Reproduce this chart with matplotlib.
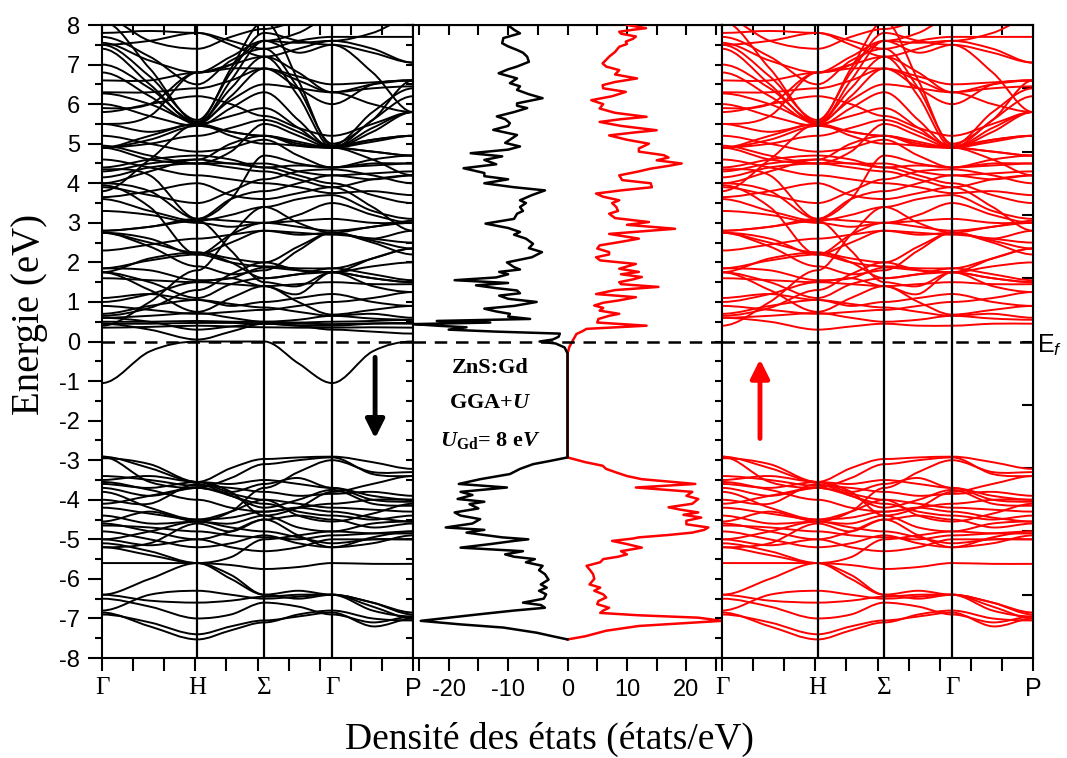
import numpy as np
import matplotlib
matplotlib.use('Agg')
import matplotlib.pyplot as plt
from matplotlib.path import Path
from matplotlib.patches import PathPatch

plt.rcParams['font.family'] = ['Liberation Sans', 'DejaVu Sans']
plt.rcParams['axes.unicode_minus'] = False
plt.rcParams['mathtext.fontset'] = 'custom'
plt.rcParams['mathtext.rm'] = 'Liberation Serif:bold'
plt.rcParams['mathtext.it'] = 'Liberation Serif:italic:bold'
plt.rcParams['mathtext.bf'] = 'Liberation Serif:bold'
plt.rcParams['mathtext.sf'] = 'Liberation Sans:italic'

# k path: Γ - H - Σ - Γ - P, with one node between each pair of symmetry points
k_nodes = [0.0, 0.1535, 0.307, 0.4145, 0.522, 0.631, 0.74, 0.87, 1.0]
sym_k = [0.0, 0.307, 0.522, 0.74, 1.0]
sym_labels = ['Γ', 'H', 'Σ', 'Γ', 'P']

# conduction bands (eV), same in both spin channels
bands_cond = [
    [0.60, 0.50, 0.30, 0.38, 0.45, 0.40, 0.40, 0.45, 0.45],
    [0.60, 0.65, 0.72, 0.60, 0.50, 0.55, 0.65, 0.58, 0.55],
    [0.70, 0.90, 1.05, 0.95, 0.86, 0.75, 0.65, 0.70, 0.60],
    [1.75, 1.30, 0.75, 1.10, 1.40, 1.00, 0.68, 0.80, 0.90],
    [1.75, 1.50, 1.10, 1.45, 1.60, 1.70, 1.75, 1.40, 1.25],
    [1.85, 1.80, 1.55, 1.60, 1.87, 1.80, 1.75, 1.60, 1.50],
    [1.85, 2.05, 2.20, 2.00, 1.90, 1.85, 1.85, 1.70, 1.55],
    [2.75, 2.50, 2.25, 2.10, 2.00, 2.40, 2.75, 2.55, 2.35],
    [2.80, 2.90, 3.05, 2.30, 1.50, 1.40, 1.75, 2.10, 2.35],
    [0.40, 1.00, 1.80, 2.70, 3.40, 3.00, 2.75, 2.90, 3.00],
    [3.60, 3.30, 3.05, 3.20, 3.40, 3.60, 3.70, 3.30, 3.10],
    [3.65, 3.80, 4.00, 3.70, 3.60, 3.75, 3.90, 3.40, 2.80],
    [3.95, 3.40, 2.20, 2.70, 3.00, 2.90, 2.80, 2.90, 3.05],
    [4.15, 4.40, 4.50, 4.40, 4.30, 4.10, 3.90, 4.10, 4.20],
    [4.30, 4.50, 4.60, 4.50, 4.50, 4.30, 4.20, 4.25, 4.30],
    [4.35, 4.20, 3.10, 3.60, 4.70, 4.50, 4.40, 4.45, 4.50],
    [4.90, 5.20, 5.50, 5.20, 5.00, 4.95, 4.90, 4.80, 4.70],
    [4.90, 5.10, 5.45, 5.30, 5.20, 5.05, 4.90, 5.05, 5.20],
    [4.95, 4.70, 4.50, 4.80, 5.50, 5.20, 4.90, 5.40, 5.80],
    [3.80, 4.60, 5.50, 5.70, 5.90, 5.40, 4.90, 4.80, 4.70],
    [6.27, 6.00, 5.55, 6.10, 6.50, 6.40, 6.30, 6.40, 6.45],
    [6.80, 6.20, 5.50, 6.20, 6.90, 6.60, 6.30, 6.50, 6.60],
    [7.40, 6.50, 5.50, 6.60, 7.60, 7.30, 7.50, 7.30, 7.05],
    [7.50, 6.70, 5.60, 6.80, 7.80, 7.60, 7.50, 6.80, 5.80],
    [7.55, 7.10, 6.80, 7.00, 7.60, 7.55, 7.60, 7.80, 8.20],
    [7.80, 7.85, 7.80, 7.50, 7.20, 7.40, 7.60, 7.40, 7.05],
    [8.20, 7.60, 7.40, 7.70, 7.90, 8.10, 8.20, 8.10, 8.00],
    [5.50, 5.70, 6.80, 7.20, 7.60, 7.80, 8.20, 8.30, 8.30],
    [2.80, 2.90, 3.10, 3.05, 3.00, 3.05, 3.10, 3.00, 3.00],
    [1.75, 2.10, 2.25, 2.00, 1.60, 1.70, 1.85, 2.10, 2.35],
    [5.50, 5.30, 5.50, 5.30, 5.20, 5.00, 4.90, 5.10, 5.20],
    [4.90, 4.60, 4.50, 4.50, 4.40, 4.45, 4.40, 4.50, 4.50],
    [4.00, 4.30, 4.60, 5.00, 5.20, 4.95, 4.90, 4.60, 4.20],
    [1.00, 1.20, 1.50, 1.60, 1.40, 1.20, 1.75, 1.60, 1.50],
    [6.30, 6.30, 6.40, 6.60, 6.90, 6.40, 6.00, 6.50, 6.60],
    [5.90, 6.00, 6.80, 7.00, 7.20, 6.80, 6.30, 6.00, 5.80],
    [4.00, 3.80, 3.10, 3.60, 3.80, 4.00, 4.20, 4.10, 4.20],
    [2.75, 2.60, 2.20, 2.50, 2.80, 2.70, 2.75, 2.60, 2.80],
    [7.00, 6.40, 5.55, 6.40, 7.20, 6.20, 4.90, 5.60, 6.20],
    [8.10, 6.90, 5.55, 6.90, 8.10, 6.60, 4.95, 5.80, 6.40],
    [6.00, 5.70, 5.45, 5.90, 6.30, 5.60, 4.90, 5.30, 5.80],
    [7.70, 7.20, 6.50, 7.10, 7.40, 6.40, 5.00, 5.60, 6.60],
    [4.40, 4.60, 4.70, 4.60, 4.40, 4.20, 4.00, 3.70, 3.50],
    [3.90, 3.70, 3.50, 3.80, 4.10, 4.30, 4.35, 4.20, 4.00],
    [2.75, 2.40, 1.90, 1.70, 1.80, 2.30, 2.75, 2.50, 2.20],
    [0.65, 0.85, 1.30, 1.70, 2.00, 1.80, 1.75, 1.90, 2.00],
    [1.10, 1.20, 1.05, 0.90, 1.00, 1.10, 1.20, 1.00, 0.90],
    [4.90, 5.00, 5.20, 5.40, 5.60, 5.30, 4.95, 5.10, 5.20],
    [5.20, 5.00, 4.80, 4.90, 5.10, 4.70, 4.40, 4.60, 4.70],
    [6.60, 6.60, 6.80, 6.90, 6.90, 6.70, 6.50, 6.55, 6.60],
    [7.50, 7.60, 7.80, 7.60, 7.40, 7.60, 7.70, 7.70, 7.70],
    [3.30, 3.20, 3.00, 2.90, 3.00, 3.20, 3.50, 3.20, 3.00],
    [1.60, 1.55, 1.50, 1.45, 1.40, 1.45, 1.50, 1.45, 1.45],
    [2.30, 2.45, 2.60, 2.70, 2.80, 2.75, 2.70, 2.60, 2.50],
    [4.60, 4.40, 4.20, 4.10, 4.00, 3.90, 3.75, 3.80, 3.70],
    [5.80, 6.00, 6.20, 6.00, 5.70, 5.40, 5.20, 5.50, 5.80],
    [0.90, 0.80, 0.70, 0.75, 0.80, 0.90, 1.00, 1.10, 1.25],
]

# valence bands (eV), same in both spin channels
bands_val = [
    [-2.91, -3.20, -3.55, -3.20, -2.97, -2.93, -2.91, -3.05, -3.22],
    [-2.91, -3.55, -3.70, -3.45, -3.10, -3.00, -2.93, -3.35, -3.40],
    [-3.50, -3.40, -3.55, -3.60, -3.50, -3.60, -3.70, -3.90, -4.00],
    [-3.60, -3.70, -3.55, -3.80, -3.60, -3.45, -3.70, -4.00, -4.05],
    [-3.70, -3.90, -3.70, -3.90, -4.20, -4.00, -3.75, -4.10, -4.15],
    [-3.80, -4.20, -4.50, -4.30, -4.00, -4.40, -4.55, -4.35, -4.10],
    [-4.55, -4.30, -4.55, -4.60, -4.40, -4.70, -4.80, -4.60, -4.55],
    [-4.60, -4.80, -5.00, -4.80, -4.50, -4.40, -4.50, -4.70, -4.60],
    [-4.80, -5.00, -5.20, -5.10, -4.90, -5.10, -5.20, -4.95, -4.80],
    [-5.00, -5.15, -5.00, -5.20, -5.30, -5.20, -5.00, -5.00, -5.00],
    [-5.20, -5.10, -4.60, -4.80, -4.50, -4.90, -5.20, -5.10, -4.90],
    [-5.60, -5.60, -5.60, -5.65, -5.75, -5.70, -5.60, -5.62, -5.62],
    [-6.40, -6.00, -5.60, -6.00, -6.40, -6.30, -6.40, -6.60, -6.90],
    [-5.20, -5.40, -5.60, -5.90, -6.40, -6.50, -6.40, -6.70, -7.00],
    [-6.80, -6.40, -6.30, -6.40, -6.50, -6.45, -6.40, -6.80, -6.95],
    [-6.85, -7.20, -7.53, -7.30, -7.10, -6.90, -6.80, -7.00, -7.05],
    [-6.90, -7.10, -7.40, -7.20, -7.05, -6.95, -6.85, -7.20, -7.00],
    [-6.50, -6.70, -7.00, -6.90, -6.60, -6.70, -6.90, -7.10, -6.95],
    [-2.95, -3.10, -3.55, -3.80, -4.40, -4.20, -3.80, -3.60, -3.40],
    [-4.40, -4.60, -4.55, -4.30, -3.70, -3.30, -3.00, -3.30, -3.30],
    [-5.10, -5.30, -5.60, -5.45, -5.00, -4.90, -4.80, -4.85, -4.85],
    [-4.00, -4.10, -3.60, -3.90, -4.10, -4.30, -4.40, -4.50, -4.40],
    [-3.40, -3.50, -3.65, -3.70, -3.80, -3.90, -3.85, -3.80, -3.90],
    [-4.20, -4.35, -4.50, -4.45, -4.30, -4.20, -4.30, -4.45, -4.55],
    [-4.65, -4.70, -4.80, -4.90, -4.95, -5.00, -4.90, -4.85, -4.80],
    [-4.10, -3.90, -3.70, -3.85, -4.00, -4.10, -4.20, -4.25, -4.30],
    [-5.00, -4.80, -4.55, -4.70, -4.80, -4.95, -5.10, -5.00, -5.00],
    [-6.40, -6.55, -6.60, -6.55, -6.45, -6.40, -6.40, -6.60, -6.85],
    [-3.55, -3.75, -4.00, -4.20, -4.30, -4.20, -4.10, -4.00, -4.00],
]

# Gd-4f derived bands of the minority channel
bands_dn_extra = [
    [0.35, 0.37, 0.40, 0.38, 0.36, 0.35, 0.35, 0.36, 0.35],
    [0.45, 0.45, 0.47, 0.47, 0.46, 0.45, 0.44, 0.46, 0.47],
    [0.50, 0.50, 0.52, 0.50, 0.50, 0.48, 0.50, 0.52, 0.55],
    [0.45, 0.30, 0.05, 0.25, 0.45, 0.40, 0.30, 0.25, 0.20],
    [-1.05, -0.25, 0.00, 0.00, 0.00, -0.55, -1.05, -0.25, 0.00],
]

# total DOS, spin down (plotted negative)
e_dn = [-7.53, -7.45, -7.36, -7.23, -7.15, -7.06, -6.98, -6.90, -6.80, -6.73,
        -6.66, -6.60, -6.50, -6.39, -6.30, -6.22, -6.14, -6.02, -5.88, -5.78,
        -5.67, -5.58, -5.50, -5.44, -5.38, -5.30, -5.21, -5.12, -5.04, -5.00,
        -4.95, -4.83, -4.76, -4.70, -4.60, -4.49, -4.40, -4.32, -4.22, -4.11,
        -4.05, -3.98, -3.88, -3.80, -3.69, -3.60, -3.48, -3.35, -3.22, -3.10,
        -3.02, -2.93, -0.30, -0.15, -0.05, 0.00, 0.05, 0.12, 0.20, 0.25,
        0.30, 0.36, 0.40, 0.44, 0.48, 0.52, 0.57, 0.63, 0.70, 0.76,
        0.83, 0.90, 1.00, 1.08, 1.16, 1.22, 1.29, 1.35, 1.42, 1.48,
        1.55, 1.62, 1.70, 1.76, 1.82, 1.88, 2.00, 2.13, 2.26, 2.36,
        2.47, 2.60, 2.70, 2.77, 2.87, 2.98, 3.10, 3.23, 3.30, 3.40,
        3.50, 3.57, 3.70, 3.82, 3.90, 4.00, 4.10, 4.18, 4.26, 4.38,
        4.48, 4.59, 4.68, 4.76, 4.85, 4.93, 5.02, 5.10, 5.22, 5.35,
        5.45, 5.52, 5.62, 5.69, 5.80, 5.90, 5.96, 6.02, 6.15, 6.25,
        6.36, 6.45, 6.53, 6.65, 6.78, 6.88, 6.95, 7.07, 7.20, 7.30,
        7.37, 7.46, 7.54, 7.67, 7.79, 7.88, 7.96, 8.00]
dos_dn = [0.0, 2.5, 5.2, 10.8, 18.0, 24.7, 20.0, 15.2, 9.0, 3.8,
          4.5, 7.5, 4.0, 3.6, 4.8, 3.5, 4.5, 3.2, 3.8, 4.8,
          4.2, 7.0, 5.5, 9.0, 10.5, 7.5, 18.0, 13.0, 9.0, 6.6,
          11.0, 17.0, 14.0, 20.5, 16.0, 14.7, 18.0, 19.0, 15.0, 16.5,
          14.0, 18.5, 16.0, 18.0, 10.2, 18.3, 14.7, 9.7, 8.0, 5.8,
          3.0, 0.0, 0.0, 0.5, 2.0, 4.7, 2.5, 1.5, 1.3, 12.0,
          20.0, 17.0, 22.0, 25.8, 13.0, 22.0, 6.3, 10.0, 9.7, 12.0,
          14.0, 9.0, 5.2, 10.0, 11.5, 8.0, 8.5, 12.0, 15.4, 10.0,
          19.0, 12.0, 10.0, 11.5, 8.0, 9.0, 10.2, 6.0, 4.3, 6.5,
          5.8, 7.0, 9.0, 8.0, 10.0, 13.8, 9.0, 8.5, 7.5, 8.0,
          7.0, 8.0, 6.0, 3.8, 9.0, 14.0, 10.0, 14.0, 14.0, 17.5,
          12.0, 14.0, 11.0, 16.3, 10.0, 8.0, 10.5, 9.7, 8.5, 12.5,
          10.0, 9.7, 10.5, 11.9, 9.0, 6.8, 8.5, 8.5, 4.2, 6.5,
          8.5, 8.0, 9.7, 8.5, 11.6, 10.0, 8.5, 6.5, 6.8, 7.5,
          8.5, 10.0, 11.0, 10.8, 8.0, 9.0, 9.7, 10.0]

# total DOS, spin up
e_up = [-7.53, -7.45, -7.31, -7.19, -7.06, -6.98, -6.92, -6.86, -6.80, -6.73,
        -6.64, -6.56, -6.47, -6.39, -6.30, -6.22, -6.14, -6.00, -5.88, -5.78,
        -5.67, -5.58, -5.50, -5.44, -5.38, -5.30, -5.21, -5.12, -5.04, -4.98,
        -4.95, -4.89, -4.83, -4.76, -4.70, -4.62, -4.53, -4.45, -4.38, -4.32,
        -4.25, -4.19, -4.10, -3.98, -3.90, -3.80, -3.69, -3.60, -3.48, -3.40,
        -3.31, -3.22, -3.14, -3.05, -2.93, -0.30, -0.14, 0.03, 0.19, 0.26,
        0.32, 0.40, 0.48, 0.57, 0.65, 0.70, 0.78, 0.85, 0.91, 0.98,
        1.04, 1.12, 1.20, 1.30, 1.38, 1.45, 1.50, 1.57, 1.63, 1.70,
        1.76, 1.84, 1.96, 2.05, 2.13, 2.20, 2.26, 2.35, 2.43, 2.52,
        2.60, 2.72, 2.85, 2.95, 3.02, 3.12, 3.23, 3.30, 3.40, 3.50,
        3.57, 3.66, 3.74, 3.82, 3.90, 4.00, 4.08, 4.20, 4.30, 4.37,
        4.44, 4.50, 4.58, 4.65, 4.71, 4.80, 4.88, 4.95, 5.00, 5.10,
        5.21, 5.28, 5.34, 5.45, 5.55, 5.62, 5.68, 5.78, 5.89, 6.00,
        6.10, 6.20, 6.31, 6.40, 6.48, 6.56, 6.65, 6.75, 6.86, 6.95,
        7.03, 7.12, 7.20, 7.32, 7.45, 7.52, 7.58, 7.65, 7.71, 7.78,
        7.83, 7.88, 7.92, 8.00]
dos_up = [0.0, 3.0, 6.5, 12.0, 26.0, 22.0, 12.0, 5.5, 6.0, 7.0,
          5.0, 5.2, 6.5, 6.0, 4.5, 5.5, 3.7, 4.5, 4.3, 3.8,
          3.2, 5.5, 6.0, 8.5, 10.0, 9.0, 12.5, 10.0, 7.5, 11.0,
          12.0, 17.0, 21.0, 23.0, 23.7, 20.0, 20.0, 22.5, 19.5, 22.0,
          19.0, 17.0, 21.0, 22.0, 20.0, 21.0, 11.5, 21.5, 12.5, 10.0,
          8.2, 6.5, 5.9, 3.0, 0.0, 0.0, 0.3, 0.9, 1.5, 2.5,
          3.2, 13.3, 5.0, 5.2, 7.0, 8.7, 5.4, 6.0, 4.5, 6.0,
          8.7, 11.5, 4.8, 8.0, 15.3, 9.0, 8.7, 11.0, 12.5, 9.0,
          12.0, 8.7, 11.5, 5.5, 4.8, 7.0, 7.0, 5.0, 5.4, 9.0,
          12.0, 7.0, 18.1, 10.0, 13.7, 8.0, 7.0, 8.5, 8.2, 7.5,
          8.7, 6.0, 4.8, 9.0, 14.2, 14.0, 9.2, 8.7, 12.0, 14.0,
          17.0, 19.2, 15.0, 17.0, 16.2, 12.0, 12.0, 13.0, 13.7, 10.0,
          7.0, 11.0, 15.0, 9.0, 5.4, 9.0, 13.3, 8.0, 5.4, 6.0,
          4.0, 7.5, 9.8, 6.0, 5.9, 8.0, 11.7, 8.0, 8.7, 6.5,
          5.9, 6.5, 7.0, 8.0, 8.7, 10.0, 9.8, 11.0, 11.5, 9.0,
          8.7, 11.0, 13.2, 10.0]

SERIF = 'Liberation Serif'
SANS = 'Liberation Sans'


def band_path(energies):
    # smooth curve through the nodes: flat at symmetry points, centred slope in between
    k = np.array(k_nodes)
    e = np.asarray(energies, dtype=float)
    slope = np.zeros_like(e)
    slope[1::2] = (e[2::2] - e[:-2:2]) / (k[2::2] - k[:-2:2])
    verts = [(k[0], e[0])]
    codes = [Path.MOVETO]
    for i in range(len(k) - 1):
        h = (k[i + 1] - k[i]) / 3
        verts += [(k[i] + h, e[i] + slope[i] * h),
                  (k[i + 1] - h, e[i + 1] - slope[i + 1] * h),
                  (k[i + 1], e[i + 1])]
        codes += [Path.CURVE4] * 3
    return Path(verts, codes)


def draw_bands(ax, bands, color):
    for b in bands:
        ax.add_patch(PathPatch(band_path(b), fill=False, ec=color, lw=1.4,
                               capstyle='round', joinstyle='round', zorder=2))


def style_band_axis(ax, left_labels):
    ax.set_xlim(0, 1)
    ax.set_ylim(-8, 8)
    for k in sym_k[1:-1]:
        ax.axvline(k, color='k', lw=1.6, zorder=3)
    ax.set_xticks(np.arange(0, 1.001, 0.1))
    ax.set_xticklabels([])
    ax.tick_params(axis='x', direction='out', length=9, width=1.5)
    top = ax.secondary_xaxis('top')
    top.set_xticks(np.arange(0, 1.001, 0.1))
    top.tick_params(direction='in', length=7, width=1.5, labeltop=False)
    top.spines['top'].set_linewidth(1.5)
    if left_labels:
        ax.set_yticks(np.arange(-8, 8.1, 1))
        ax.set_yticks(np.arange(-7.5, 8, 1), minor=True)
        ax.tick_params(axis='y', which='major', direction='out', length=10,
                       width=1.5, labelsize=17, pad=6)
        ax.tick_params(axis='y', which='minor', direction='out', length=5, width=1.5)
    else:
        ax.set_yticks(np.arange(-8, 8.1, 0.5))
        ax.set_yticklabels([])
        ax.tick_params(axis='y', direction='out', length=5, width=1.5)
    for lbl, k in zip(sym_labels, sym_k):
        fam = SANS if lbl == 'P' else SERIF
        ax.annotate(lbl, xy=(k, 0), xycoords=('data', 'axes fraction'),
                    xytext=(0, -14), textcoords='offset points',
                    ha='center', va='top', fontsize=18, family=fam)


fig = plt.figure(figsize=(10.67, 7.58), dpi=100)
bot, hgt = 0.1319, 0.8351
ax1 = fig.add_axes([0.0956, bot, 0.2915, hgt])
ax2 = fig.add_axes([0.3871, bot, 0.2896, hgt])
ax3 = fig.add_axes([0.6767, bot, 0.2915, hgt])

for ax in (ax1, ax2, ax3):
    for s in ax.spines.values():
        s.set_linewidth(1.5)
    ax.axhline(0, color='k', lw=1.8, ls=(0, (5, 3.5)), zorder=5)

# spin down bands
draw_bands(ax1, bands_val + bands_cond + bands_dn_extra, 'black')
style_band_axis(ax1, left_labels=True)
ax1.annotate('', xy=(0.878, -2.45), xytext=(0.878, -0.4),
             arrowprops=dict(arrowstyle='-|>', color='black', lw=3.5,
                             mutation_scale=28, shrinkA=0, shrinkB=0))

# spin up bands
draw_bands(ax3, bands_val + bands_cond, 'red')
style_band_axis(ax3, left_labels=False)
ax3.annotate('', xy=(0.122, -0.45), xytext=(0.122, -2.45),
             arrowprops=dict(arrowstyle='-|>', color='red', lw=3.5,
                             mutation_scale=28, shrinkA=0, shrinkB=0))
right = ax3.secondary_yaxis('right')
right.set_yticks(np.arange(-6.4, 8, 1.6))
right.tick_params(direction='in', length=8, width=1.5, labelright=False)

# DOS panel
ax2.plot(dos_up, e_up, color='red', lw=1.8, zorder=3)
ax2.plot(-np.array(dos_dn), e_dn, color='black', lw=1.8, zorder=4)
ax2.set_xlim(-26, 26)
ax2.set_ylim(-8, 8)
ax2.set_yticks(np.arange(-8, 8.1, 0.5))
ax2.set_yticklabels([])
ax2.tick_params(axis='y', direction='out', length=5, width=1.5)
ax2.set_xticks([-20, -10, 0, 10, 20])
ax2.set_xticks([-25, -15, -5, 5, 15, 25], minor=True)
ax2.tick_params(axis='x', which='both', direction='out', length=9, width=1.5,
                labelsize=17, pad=6)
top2 = ax2.secondary_xaxis('top')
top2.set_xticks([-25, -20, -15, -10, -5, 0, 5, 10, 15, 20, 25])
top2.tick_params(direction='in', length=7, width=1.5, labeltop=False)

ax2.text(-13, -0.68, 'ZnS:Gd', family=SERIF, weight='bold', fontsize=16,
         ha='center', va='center')
ax2.text(-13, -1.55, 'GGA+$U$', family=SERIF, weight='bold', fontsize=16,
         ha='center', va='center')
ax2.text(-13, -2.5, r'$U_{\mathrm{Gd}}$= 8 e$V$', family=SERIF, weight='bold',
         fontsize=16, ha='center', va='center')

fig.text(1037 / 1067, 1 - 345 / 758, r'E$_{\mathsf{f}}$', family=SANS,
         fontsize=18, ha='left', va='center')
fig.text(0.028, 0.585, 'Energie (eV)', family=SERIF, fontsize=28,
         rotation=90, ha='center', va='center')
fig.text(0.5145, 0.025, 'Densité des états (états/eV)', family=SERIF,
         fontsize=27, ha='center', va='center')

fig.savefig('out.png', dpi=100)
